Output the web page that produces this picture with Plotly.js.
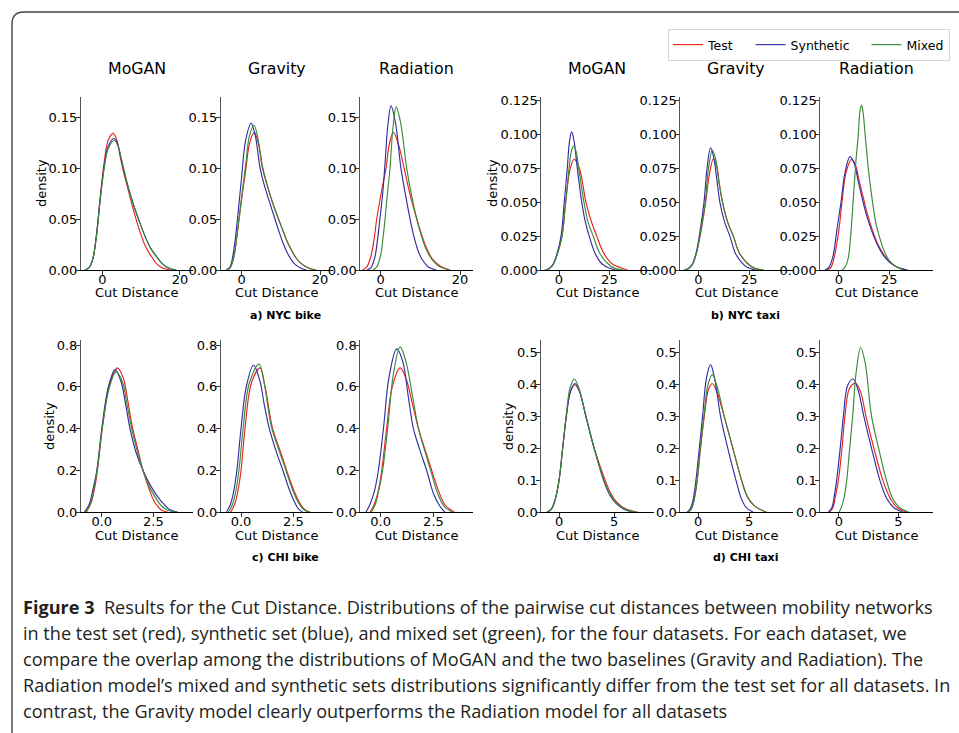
<!DOCTYPE html>
<html><head><meta charset="utf-8">
<script src="https://cdn.plot.ly/plotly-3.0.1.min.js"></script>
<style>html,body{margin:0;padding:0;background:#fff;} #chart{width:959px;height:733px;}</style>
</head><body><div id="chart"></div>
<script>
// ---------- DATA ----------
const seriesNames = ['Test', 'Synthetic', 'Mixed'];
const modelNames = ['MoGAN', 'Gravity', 'Radiation'];
const datasetLabels = ['a) NYC bike', 'b) NYC taxi', 'c) CHI bike', 'd) CHI taxi'];

// a) NYC bike — MoGAN
const a1TestX = [-4.5,-3.5,-2.5,-1.5,-0.5,0.5,1.5,2.8,3.7,4.6,5.6,6.7,7.8,9.0,10,11,12,12.7,14,15.5,17.5];
const a1TestY = [0,0.002,0.01,0.035,0.073,0.106,0.127,0.134,0.128,0.111,0.094,0.078,0.062,0.046,0.034,0.024,0.017,0.013,0.006,0.002,0];
const a1SynX = [-4.5,-3.5,-2.5,-1.5,-0.5,0.5,1.5,3.0,3.9,4.8,5.8,6.9,8.2,9.7,11,12.5,14,15.5,17,19];
const a1SynY = [0,0.002,0.01,0.034,0.071,0.102,0.121,0.129,0.124,0.11,0.094,0.078,0.062,0.046,0.033,0.021,0.013,0.006,0.002,0];
const a1MixX = [-4.5,-3.5,-2.5,-1.5,-0.5,0.5,1.5,3.1,4.0,4.9,5.9,6.9,8.2,9.7,11,12.5,14,15.5,17,19];
const a1MixY = [0,0.002,0.01,0.033,0.07,0.1,0.119,0.127,0.122,0.109,0.093,0.078,0.062,0.046,0.033,0.021,0.013,0.006,0.002,0];
// a) NYC bike — Gravity
const a2TestX = [-4,-3,-2,-1,0,1.1,2,3.2,4.2,5.3,6.5,7.9,9.4,10.5,11.5,12.5,13.5,15,17,19];
const a2TestY = [0,0.002,0.013,0.04,0.07,0.10,0.124,0.135,0.125,0.10,0.083,0.066,0.05,0.039,0.029,0.021,0.014,0.007,0.002,0];
const a2SynX = [-4,-3,-2,-1,0,1,2.4,3.5,4.7,5.8,7,8.5,9.5,10.5,11.5,12.5,13.5,15,16.5];
const a2SynY = [0,0.003,0.02,0.053,0.092,0.127,0.144,0.131,0.10,0.083,0.068,0.05,0.038,0.027,0.018,0.011,0.006,0.002,0];
const a2MixX = [-4,-3,-2,-1,0,1.1,2,3.15,4.2,5.3,6.5,7.9,9.4,10.5,11.5,12.5,13.5,15,17,19];
const a2MixY = [0,0.002,0.013,0.04,0.072,0.106,0.132,0.142,0.128,0.102,0.084,0.066,0.05,0.039,0.029,0.021,0.014,0.007,0.002,0];
// a) NYC bike — Radiation
const a3TestX = [-4.5,-3.5,-2.5,-1.6,-1.0,0.2,1.35,2.2,3.2,4.5,5.9,7.4,9.1,10.3,11.5,13,15,17.5];
const a3TestY = [0,0.003,0.013,0.032,0.05,0.077,0.10,0.124,0.135,0.123,0.10,0.074,0.05,0.035,0.022,0.011,0.004,0];
const a3SynX = [-3.5,-2.5,-1.5,-0.8,-0.2,0.5,1.1,1.8,2.6,3.7,5.1,6.2,7.4,8.5,9.5,10.5,12,14];
const a3SynY = [0,0.002,0.012,0.03,0.05,0.075,0.105,0.142,0.161,0.145,0.10,0.075,0.05,0.031,0.018,0.01,0.003,0];
const a3MixX = [-2,-1,0,0.6,1.1,1.7,2.35,3.1,3.9,5,6.55,7.8,9.1,10.3,11.5,13,15,17.5];
const a3MixY = [0,0.003,0.015,0.032,0.05,0.075,0.10,0.14,0.16,0.145,0.10,0.073,0.05,0.033,0.02,0.01,0.003,0];

// b) NYC taxi — MoGAN
const b1TestX = [-7,-5,-3,-1,1.5,3.3,5.6,7.6,9,10.4,13.4,16,18.7,22,26,30,34];
const b1TestY = [0,0.001,0.004,0.011,0.025,0.05,0.075,0.082,0.079,0.074,0.05,0.036,0.025,0.013,0.005,0.002,0];
const b1SynX = [-7,-5,-3,-1,1,2.6,4.1,5.2,6.3,7.5,9.1,11.3,13,15.4,18,21,24,28];
const b1SynY = [0,0.001,0.004,0.012,0.025,0.05,0.075,0.095,0.102,0.095,0.075,0.05,0.036,0.023,0.012,0.005,0.002,0];
const b1MixX = [-7,-5,-3,-1,1.5,3.3,5,6.2,7.3,8.6,9.8,12.4,14.5,17,20,24,28,32];
const b1MixY = [0,0.001,0.004,0.011,0.025,0.05,0.075,0.088,0.0915,0.087,0.075,0.05,0.035,0.025,0.013,0.005,0.001,0];
// b) NYC taxi — Gravity
const b2TestX = [-7,-5,-3,-1,1,3.6,5.4,7.35,9,10.3,11.9,14.5,17.2,20,24,28,32];
const b2TestY = [0,0.001,0.004,0.012,0.026,0.05,0.07,0.082,0.077,0.064,0.05,0.035,0.025,0.013,0.005,0.001,0];
const b2SynX = [-7,-5,-3,-1,1,2.8,4.3,6.0,7.6,9,10.6,13,15.5,18,21,24,28];
const b2SynY = [0,0.001,0.004,0.013,0.03,0.05,0.075,0.0903,0.083,0.068,0.05,0.035,0.025,0.013,0.006,0.002,0];
const b2MixX = [-7,-5,-3,-1,1,3.4,5,6.9,8.5,10,11.9,14.5,17.2,20,24,28,32];
const b2MixY = [0,0.001,0.004,0.012,0.027,0.05,0.075,0.0886,0.082,0.066,0.05,0.035,0.025,0.013,0.005,0.001,0];
// b) NYC taxi — Radiation
const b3TestX = [-6,-4,-2,0,1.5,3.5,6.3,8.3,10,12,14,16.5,19,22,25,29,34];
const b3TestY = [0,0.002,0.012,0.03,0.05,0.072,0.0817,0.077,0.066,0.054,0.042,0.03,0.02,0.012,0.006,0.002,0];
const b3SynX = [-7,-5,-3,-1,1,3,5.5,7.5,9.5,11.7,14,16.5,19,22,25,29,34];
const b3SynY = [0,0.002,0.01,0.03,0.05,0.072,0.0837,0.079,0.066,0.052,0.039,0.028,0.019,0.011,0.006,0.002,0];
const b3MixX = [1.5,3,4.5,5.8,7,8.4,9.6,10.4,11.2,12,13,14.8,16.7,18.3,20,22.5,25,28,32];
const b3MixY = [0,0.002,0.008,0.025,0.05,0.08,0.10,0.117,0.1218,0.116,0.10,0.072,0.05,0.035,0.025,0.014,0.007,0.003,0];

// c) CHI bike — MoGAN
const c1TestX = [-0.75,-0.5,-0.3,-0.15,0.05,0.4,0.76,1.05,1.25,1.5,1.75,2.0,2.3,2.5,2.7,2.9,3.2];
const c1TestY = [0,0.05,0.14,0.25,0.42,0.62,0.691,0.64,0.54,0.4,0.3,0.2,0.11,0.06,0.03,0.01,0];
const c1SynX = [-0.85,-0.6,-0.45,-0.24,0,0.32,0.65,0.95,1.15,1.37,1.65,2.0,2.35,2.7,3.0,3.3,3.7];
const c1SynY = [0,0.04,0.1,0.2,0.4,0.6,0.683,0.62,0.52,0.4,0.29,0.2,0.13,0.075,0.04,0.012,0];
const c1MixX = [-0.8,-0.55,-0.4,-0.2,0.02,0.35,0.69,1.0,1.2,1.45,1.7,2.0,2.3,2.6,2.9,3.2,3.6];
const c1MixY = [0,0.04,0.1,0.22,0.4,0.59,0.672,0.625,0.53,0.4,0.3,0.2,0.125,0.07,0.03,0.01,0];
// c) CHI bike — Gravity
const c2TestX = [-0.5,-0.3,-0.15,0,0.19,0.5,0.91,1.15,1.51,1.85,2.18,2.5,2.8,3.05,3.3];
const c2TestY = [0,0.04,0.1,0.2,0.4,0.62,0.691,0.6,0.4,0.3,0.2,0.11,0.045,0.012,0];
const c2SynX = [-0.7,-0.5,-0.35,-0.2,0,0.25,0.59,0.9,1.1,1.35,1.65,2.0,2.3,2.55,2.75,2.95];
const c2SynY = [0,0.04,0.1,0.2,0.4,0.6,0.704,0.63,0.52,0.4,0.3,0.2,0.11,0.05,0.015,0];
const c2MixX = [-0.6,-0.4,-0.25,-0.1,0.1,0.4,0.86,1.1,1.45,1.8,2.15,2.45,2.75,3.0,3.3];
const c2MixY = [0,0.04,0.1,0.2,0.4,0.62,0.71,0.62,0.41,0.3,0.2,0.11,0.045,0.012,0];
// c) CHI bike — Radiation
const c3TestX = [-0.5,-0.3,-0.12,0.05,0.28,0.55,0.92,1.2,1.5,1.79,2.1,2.42,2.75,3.05,3.5];
const c3TestY = [0,0.04,0.1,0.2,0.4,0.6,0.691,0.64,0.52,0.4,0.3,0.2,0.1,0.035,0];
const c3SynX = [-0.7,-0.5,-0.3,-0.11,0.13,0.4,0.76,1.05,1.3,1.55,1.85,2.18,2.5,2.8,3.05];
const c3SynY = [0,0.04,0.1,0.2,0.4,0.65,0.782,0.72,0.56,0.4,0.3,0.2,0.09,0.03,0];
const c3MixX = [-0.45,-0.25,-0.1,0.09,0.33,0.6,0.92,1.2,1.5,1.79,2.1,2.4,2.7,3.0,3.4];
const c3MixY = [0,0.04,0.1,0.2,0.4,0.66,0.792,0.72,0.56,0.4,0.29,0.19,0.09,0.03,0];

// d) CHI taxi — MoGAN
const d1TestX = [-1.1,-0.7,-0.35,0,0.33,0.66,1.05,1.45,1.85,2.45,3.2,4.2,4.7,5.3,6.1,7.2];
const d1TestY = [0,0.01,0.04,0.1,0.2,0.3,0.38,0.40,0.38,0.3,0.2,0.1,0.06,0.03,0.01,0];
const d1SynX = [-1.1,-0.7,-0.35,0,0.33,0.66,1.05,1.45,1.85,2.45,3.2,4.05,4.6,5.2,6,7];
const d1SynY = [0,0.01,0.04,0.1,0.2,0.3,0.38,0.404,0.38,0.3,0.2,0.1,0.055,0.027,0.008,0];
const d1MixX = [-1.1,-0.7,-0.35,0,0.33,0.64,1.0,1.39,1.8,2.45,3.2,4.1,4.6,5.2,6,7];
const d1MixY = [0,0.01,0.04,0.1,0.2,0.3,0.39,0.418,0.39,0.3,0.2,0.1,0.06,0.03,0.01,0];
// d) CHI taxi — Gravity
const d2TestX = [-1.0,-0.7,-0.4,-0.1,0.22,0.59,1.0,1.37,1.8,2.55,3.4,4.25,4.8,5.5,6.7];
const d2TestY = [0,0.01,0.04,0.1,0.2,0.3,0.385,0.404,0.38,0.3,0.2,0.1,0.05,0.02,0];
const d2SynX = [-1.1,-0.8,-0.5,-0.23,0.1,0.42,0.8,1.2,1.6,2.19,2.9,3.7,4.2,4.7,5.4];
const d2SynY = [0,0.01,0.04,0.1,0.2,0.3,0.42,0.463,0.42,0.3,0.2,0.1,0.045,0.015,0];
const d2MixX = [-1.0,-0.7,-0.4,-0.12,0.2,0.55,0.95,1.37,1.8,2.55,3.4,4.25,4.8,5.5,6.7];
const d2MixY = [0,0.01,0.04,0.1,0.2,0.3,0.4,0.432,0.4,0.3,0.2,0.1,0.05,0.02,0];
// d) CHI taxi — Radiation
const d3TestX = [-0.8,-0.5,-0.3,-0.05,0.25,0.5,0.9,1.4,1.8,2.28,2.95,3.7,4.3,4.9,5.7];
const d3TestY = [0,0.015,0.05,0.1,0.2,0.3,0.39,0.404,0.38,0.3,0.2,0.1,0.045,0.015,0];
const d3SynX = [-0.9,-0.6,-0.4,-0.2,0.1,0.37,0.75,1.2,1.6,2.1,2.75,3.45,4.0,4.6,5.4];
const d3SynY = [0,0.015,0.05,0.1,0.2,0.3,0.4,0.418,0.385,0.3,0.2,0.1,0.045,0.015,0];
const d3MixX = [0,0.25,0.45,0.65,0.9,1.15,1.45,1.83,2.2,2.75,3.35,4.0,4.5,5.1,5.9];
const d3MixY = [0,0.02,0.05,0.1,0.2,0.3,0.44,0.517,0.47,0.3,0.2,0.1,0.045,0.015,0];

// ---------- FIGURE ----------
const W = 959, H = 733;
const fx = v => v / W;
const fy = v => 1 - v / H;
const FONT = 'DejaVu Sans';
const colors = ['#e8231f', '#2f2fa3', '#3a8a3a'];
const NB = '\u00a0\u00a0\u00a0';   // spacing between legend entries
const legendNames = [seriesNames[0] + NB, seriesNames[1] + NB, seriesNames[2]];

const panelData = [
  [[a1TestX,a1TestY],[a1SynX,a1SynY],[a1MixX,a1MixY]],
  [[a2TestX,a2TestY],[a2SynX,a2SynY],[a2MixX,a2MixY]],
  [[a3TestX,a3TestY],[a3SynX,a3SynY],[a3MixX,a3MixY]],
  [[b1TestX,b1TestY],[b1SynX,b1SynY],[b1MixX,b1MixY]],
  [[b2TestX,b2TestY],[b2SynX,b2SynY],[b2MixX,b2MixY]],
  [[b3TestX,b3TestY],[b3SynX,b3SynY],[b3MixX,b3MixY]],
  [[c1TestX,c1TestY],[c1SynX,c1SynY],[c1MixX,c1MixY]],
  [[c2TestX,c2TestY],[c2SynX,c2SynY],[c2MixX,c2MixY]],
  [[c3TestX,c3TestY],[c3SynX,c3SynY],[c3MixX,c3MixY]],
  [[d1TestX,d1TestY],[d1SynX,d1SynY],[d1MixX,d1MixY]],
  [[d2TestX,d2TestY],[d2SynX,d2SynY],[d2MixX,d2MixY]],
  [[d3TestX,d3TestY],[d3SynX,d3SynY],[d3MixX,d3MixY]]
];

// layout geometry (pixels)
const colLeft = [80.7, 220.7, 360, 541, 680, 820];
const panelW = 112.5;
const rowTop = [96.7, 339.5], rowBottom = [270, 512.3];
const xRanges = [[-5.56,23.4],[-5.36,23.37],[-5.22,23.15],[-8.94,46.9],[-8.97,46.2],[-9.44,46.5],
                 [-1.02,4.43],[-0.97,4.4],[-0.98,4.35],[-1.64,8.59],[-1.79,9.24],[-1.6,7.88]];
const groupY = [ {range:[0,0.170], dtick:0.05, fmt:'.2f'}, {range:[0,0.128], dtick:0.025, fmt:'.3f'},
                 {range:[0,0.827], dtick:0.2, fmt:'.1f'}, {range:[0,0.542], dtick:0.1, fmt:'.1f'} ];
const groupX = [ {dtick:20, fmt:''}, {dtick:25, fmt:''}, {dtick:2.5, fmt:'.1f'}, {dtick:5, fmt:''} ];

const traces = [];
const layout = {
  width: W, height: H, margin: {l:0, r:0, t:0, b:0},
  paper_bgcolor: '#fff', plot_bgcolor: 'rgba(0,0,0,0)',
  font: {family: FONT, size: 13, color: '#000'},
  showlegend: true,
  legend: {orientation: 'h', x: fx(950), xanchor: 'right', y: fy(29), yanchor: 'top',
           bordercolor: '#d6d6d6', borderwidth: 1, bgcolor: '#fff',
           font: {family: FONT, size: 12.5, color: '#000'}},
  annotations: [], shapes: []
};

panelData.forEach((series, p) => {
  const group = Math.floor(p / 3);          // 0 a, 1 b, 2 c, 3 d
  const col = (group % 2) * 3 + (p % 3);
  const row = group < 2 ? 0 : 1;
  const k = p + 1;
  const xa = 'xaxis' + (k === 1 ? '' : k), ya = 'yaxis' + (k === 1 ? '' : k);
  const xr = 'x' + (k === 1 ? '' : k), yr = 'y' + (k === 1 ? '' : k);
  series.forEach((s, si) => {
    traces.push({
      type: 'scatter', mode: 'lines', x: s[0], y: s[1], xaxis: xr, yaxis: yr,
      name: legendNames[si], showlegend: p === 0, legendgroup: seriesNames[si],
      line: {color: colors[si], width: 1.15, shape: 'spline', smoothing: 1},
      hoverinfo: 'skip'
    });
  });
  const gy = groupY[group], gx = groupX[group];
  layout[xa] = {
    domain: [fx(colLeft[col]), fx(colLeft[col] + panelW)], anchor: yr,
    range: xRanges[p], tick0: 0, dtick: gx.dtick, tickformat: gx.fmt,
    showgrid: false, zeroline: false, showline: true, linecolor: '#000', linewidth: 1,
    ticks: 'outside', ticklen: 3.5, tickwidth: 0.8, tickcolor: '#000', ticklabelstandoff: -6,
    tickfont: {family: FONT, size: 13, color: '#000'}, fixedrange: true
  };
  layout[ya] = {
    domain: [fy(rowBottom[row]), fy(rowTop[row])], anchor: xr,
    range: gy.range, tick0: 0, dtick: gy.dtick, tickformat: gy.fmt,
    showgrid: false, zeroline: false, showline: true, linecolor: '#555', linewidth: 1.2,
    ticks: 'outside', ticklen: 3.5, tickwidth: 0.8, tickcolor: '#000', ticklabelstandoff: -4,
    tickfont: {family: FONT, size: 13, color: '#000'}, fixedrange: true
  };
  const cx = colLeft[col] + panelW / 2;
  // x-axis title
  layout.annotations.push({text: 'Cut Distance', xref: 'paper', yref: 'paper',
    x: fx(cx), y: fy(row === 0 ? 292.3 : 535), xanchor: 'center', yanchor: 'middle',
    showarrow: false, font: {family: FONT, size: 13, color: '#000'}});
  // model titles on top row
  if (row === 0) {
    layout.annotations.push({text: modelNames[p % 3], xref: 'paper', yref: 'paper',
      x: fx(cx), y: fy(68), xanchor: 'center', yanchor: 'middle', showarrow: false,
      font: {family: FONT, size: 15.8, color: '#000'}});
  }
});

// density labels
[[41.7, 183.3], [492.7, 183.3], [50, 426], [509.3, 426]].forEach(pos => {
  layout.annotations.push({text: 'density', xref: 'paper', yref: 'paper', x: fx(pos[0]), y: fy(pos[1]),
    xanchor: 'center', yanchor: 'middle', textangle: -90, showarrow: false,
    font: {family: FONT, size: 13, color: '#000'}});
});
// dataset labels
[[285, 315], [745, 315], [285, 557.7], [745, 557.7]].forEach((pos, i) => {
  layout.annotations.push({text: '<b>' + datasetLabels[i] + '</b>', xref: 'paper', yref: 'paper',
    x: fx(pos[0]), y: fy(pos[1]), xanchor: 'center', yanchor: 'middle', showarrow: false,
    font: {family: FONT, size: 11, color: '#000'}});
});

// caption
const captionLines = [
  '<b>Figure 3</b>  Results for the Cut Distance. Distributions of the pairwise cut distances between mobility networks',
  'in the test set (red), synthetic set (blue), and mixed set (green), for the four datasets. For each dataset, we',
  'compare the overlap among the distributions of MoGAN and the two baselines (Gravity and Radiation). The',
  'Radiation model\u2019s mixed and synthetic sets distributions significantly differ from the test set for all datasets. In',
  'contrast, the Gravity model clearly outperforms the Radiation model for all datasets'
];
captionLines.forEach((t, i) => {
  layout.annotations.push({text: t, xref: 'paper', yref: 'paper', x: fx(21), y: fy(607 + 26 * i),
    xanchor: 'left', yanchor: 'middle', showarrow: false,
    font: {family: 'Open Sans', size: 18.1, color: '#231f20'}});
});

// frame (rounded top-left corner)
layout.shapes.push({type: 'path', xref: 'paper', yref: 'paper',
  path: `M ${fx(12)},${fy(733)} L ${fx(12)},${fy(24)} Q ${fx(12)},${fy(12)} ${fx(24)},${fy(12)} L ${fx(959)},${fy(12)}`,
  line: {color: '#444', width: 1.4}});

Plotly.newPlot('chart', traces, layout, {staticPlot: true, displayModeBar: false});
</script>
</body></html>
